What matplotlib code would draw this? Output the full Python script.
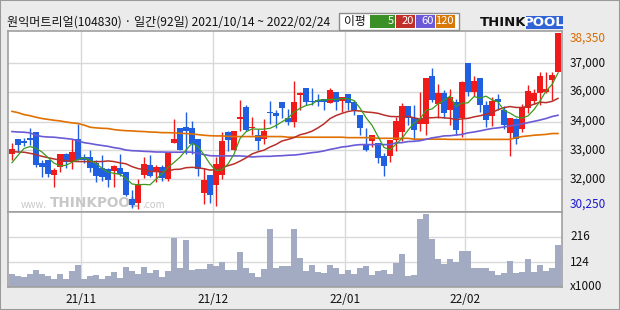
import matplotlib
matplotlib.use('Agg')
import matplotlib.pyplot as plt
from matplotlib.patches import Rectangle
import numpy as np
import pandas as pd

plt.rcParams['font.family'] = ['Noto Sans CJK KR', 'DejaVu Sans']

# --- data ---
title = '원익머트리얼(104830) · 일간(92일) 2021/10/14 ~ 2022/02/24'

opens = [32800, 33500, 33400, 33550, 33800, 32400, 32500, 31850, 32200, 32800,
         32450, 33500, 32650, 32650, 32400, 32150, 32100, 32000, 32150, 31950,
         30750, 30550, 31850, 32300, 31950, 32200, 31650, 33300, 34000, 34050,
         34000, 33500, 31000, 31850, 31350, 31850, 33800, 33000, 34400, 34950,
         34000, 33650, 33500, 34750, 34700, 35200, 34450, 34250, 35500, 35850,
         35250, 35300, 35350, 35150, 35650, 35250, 35550, 35200, 34600, 33250,
         33400, 33300, 32700, 32700, 33450, 33800, 35000, 34450, 34200, 34200,
         36400, 35100, 35600, 34800, 35200, 34450, 37000, 35650, 36300, 35050,
         34550, 35350, 34800, 33750, 34400, 33950, 34900, 35250, 35600, 35650,
         36200, 36550]
highs = [33300, 33500, 33550, 34000, 33800, 32500, 32500, 32150, 32800, 32850,
         33500, 34200, 32800, 33000, 32500, 32750, 32150, 32300, 32800, 31950,
         31150, 31650, 32650, 32750, 32300, 32300, 32900, 34400, 34000, 34750,
         34300, 33500, 32150, 31850, 32650, 33800, 33850, 33850, 35300, 35050,
         34500, 33950, 34400, 35250, 34800, 35200, 34850, 36150, 35650, 35850,
         35850, 35550, 35350, 35850, 35650, 35400, 35550, 35300, 34600, 34000,
         33650, 33300, 32850, 33450, 34500, 35150, 35000, 35050, 35650, 36300,
         36750, 36000, 35750, 35800, 35350, 36150, 37000, 36400, 36300, 35250,
         35400, 35550, 35000, 34450, 34450, 35100, 35950, 35800, 36550, 36550,
         36550, 38350]
lows = [32500, 32900, 33150, 33200, 32200, 31750, 31750, 31300, 31950, 32150,
        32100, 32500, 32400, 31950, 31500, 31550, 31300, 31300, 31800, 30850,
        30300, 30250, 31700, 31750, 31500, 31550, 31550, 33300, 33000, 32800,
        32800, 31800, 30500, 30550, 30400, 31650, 32950, 33000, 33850, 33850,
        33650, 33000, 33250, 34200, 34000, 34450, 34150, 34050, 34800, 35050,
        35050, 35000, 34800, 35150, 34800, 34750, 34800, 34600, 33650, 32950,
        33100, 32400, 31800, 32450, 32950, 33400, 34150, 33450, 33850, 33650,
        35200, 34450, 34450, 34150, 33650, 33600, 35450, 35450, 34750, 34050,
        34100, 34800, 33950, 32700, 33250, 33800, 34700, 35100, 35050, 35600,
        35300, 36550]
closes = [33050, 33200, 33300, 33450, 32300, 32200, 31900, 32050, 32800, 32450,
          32900, 32500, 32500, 32150, 31800, 31750, 31600, 32250, 31900, 30900,
          30450, 31400, 32350, 31800, 32200, 31700, 32850, 33500, 33000, 33850,
          33250, 32100, 31600, 30900, 32350, 33400, 33450, 33850, 34500, 33900,
          34050, 33400, 33850, 34700, 34550, 34900, 34250, 35200, 35600, 35200,
          35200, 35200, 35200, 35750, 35200, 35400, 35150, 34800, 34000, 33000,
          33650, 32600, 32250, 33450, 34300, 35000, 34450, 33900, 34400, 36300,
          35300, 35600, 34700, 35400, 33900, 36100, 35650, 36150, 35050, 34350,
          35250, 35200, 34150, 34450, 33500, 34950, 35700, 35600, 36400, 35800,
          36450, 38350]
# volume, x1000 shares
volumes = [80, 72, 69, 80, 95, 80, 72, 61, 80, 61,
           91, 113, 61, 72, 76, 61, 72, 87, 65, 106,
           91, 80, 106, 83, 95, 69, 91, 212, 102, 205,
           95, 98, 98, 117, 109, 124, 95, 95, 161, 102,
           83, 69, 98, 245, 102, 109, 109, 245, 139, 91,
           113, 87, 83, 113, 102, 80, 95, 80, 102, 109,
           76, 91, 95, 80, 120, 153, 72, 76, 282, 301,
           209, 135, 117, 135, 124, 165, 165, 102, 102, 102,
           91, 76, 83, 128, 83, 87, 135, 87, 113, 91,
           102, 187]

# moving averages: first points need history before the window
ma5_head = [32400, 32740, 33050, 33140]
ma20_head = [32910, 32890, 32880, 32830, 32770, 32690, 32630, 32570, 32520, 32490,
             32460, 32450, 32450, 32450, 32450, 32450, 32480, 32450, 32390]
ma60 = [33830, 33810, 33800, 33770, 33660, 33600, 33580, 33570, 33540, 33510,
        33480, 33400, 33320, 33280, 33230, 33190, 33150, 33090, 33050, 32980,
        32950, 32940, 32920, 32910, 32890, 32890, 32880, 32880, 32880, 32890,
        32880, 32830, 32770, 32720, 32710, 32710, 32710, 32710, 32710, 32690,
        32660, 32680, 32690, 32690, 32710, 32720, 32740, 32750, 32780, 32820,
        32860, 32890, 32940, 33010, 33060, 33120, 33150, 33200, 33230, 33230,
        33230, 33230, 33230, 33230, 33310, 33320, 33370, 33380, 33410, 33470,
        33540, 33580, 33630, 33640, 33670, 33700, 33770, 33810, 33860, 33920,
        33970, 34000, 34040, 34090, 34130, 34180, 34240, 34300, 34360, 34430,
        34520, 34580]
ma120 = [34760, 34700, 34610, 34560, 34490, 34430, 34390, 34350, 34320, 34270,
         34230, 34200, 34130, 34030, 34000, 33980, 33970, 33920, 33890, 33870,
         33860, 33840, 33830, 33810, 33800, 33780, 33780, 33770, 33750, 33740,
         33720, 33690, 33660, 33640, 33630, 33630, 33610, 33600, 33600, 33600,
         33600, 33600, 33600, 33600, 33600, 33600, 33570, 33570, 33570, 33570,
         33570, 33570, 33570, 33570, 33570, 33570, 33550, 33550, 33550, 33550,
         33550, 33520, 33520, 33520, 33520, 33520, 33520, 33480, 33480, 33480,
         33480, 33480, 33480, 33470, 33470, 33470, 33470, 33470, 33470, 33470,
         33470, 33470, 33470, 33470, 33550, 33600, 33630, 33660, 33680, 33700,
         33740, 33740]

month_labels = ['21/11', '21/12', '22/01', '22/02']
month_first_idx = [12, 34, 56, 76]

price_top_label, price_bottom_label = '38,350', '30,250'
price_grid = [37000, 35670, 34290, 32970, 31630]
price_grid_labels = ['37,000', '36,000', '34,000', '33,000', '32,000']
vol_grid = [216, 124]

RED = '#f01a1a'
BLUE = '#1f5fe0'
MA_COLORS = {'5': '#3c9a1e', '20': '#b8302a', '60': '#6a5ad6', '120': '#e07000'}
BOX_COLORS = {'5': '#3a8f26', '20': '#c0302a', '60': '#6a5ad8', '120': '#d9780a'}
GRID = '#d9d9d9'
FRAME = '#a0a0a0'
BG = '#ebebeb'

opens = np.array(opens)
closes_a = np.array(closes)
highs = np.array(highs)
lows = np.array(lows)
x = np.arange(len(closes))

s = pd.Series(closes, dtype=float)
ma5 = s.rolling(5).mean().to_numpy()
ma5[:4] = ma5_head
ma20 = s.rolling(20).mean().to_numpy()
ma20[:19] = ma20_head

W, H = 620, 310
fig = plt.figure(figsize=(W / 100, H / 100), dpi=100, facecolor=BG)


def fx(px):
    return px / W


def fy(py):
    return 1 - py / H


ax = fig.add_axes([fx(8), fy(212), fx(554), 181 / H])
axv = fig.add_axes([fx(8), fy(287), fx(554), 75 / H])

for a in (ax, axv):
    a.set_facecolor('white')
    a.set_xlim(-0.67, len(closes) - 0.33)
    for sp in a.spines.values():
        sp.set_color(FRAME)
        sp.set_linewidth(1.2)
    a.tick_params(left=False, right=False, labelleft=False, bottom=False, labelbottom=False)
    for m in month_first_idx:
        a.axvline(m - 0.5, color=GRID, lw=1, zorder=0)

# --- price panel ---
ax.set_ylim(30130, 38456)
for g in price_grid:
    ax.axhline(g, color=GRID, lw=1, zorder=0)

# watermark
wm = dict(transform=fig.transFigure, color='#c8c8c8', va='center', zorder=0.5)
ax.text(fx(21), fy(205), 'www.', fontsize=7, **wm)
ax.text(fx(50), fy(203), 'THINKPOOL', fontsize=9.8, fontweight='bold', family='DejaVu Sans', **wm)
ax.text(fx(142), fy(205), '.com', fontsize=7, **wm)

colors = np.where(closes_a >= opens, RED, BLUE)
ax.vlines(x, lows, highs, colors=colors, lw=1, zorder=2)
body_bottom = np.minimum(opens, closes_a)
body_h = np.maximum(np.abs(closes_a - opens), 45)
ax.bar(x, body_h, width=0.86, bottom=body_bottom, color=colors, lw=0, zorder=3)

ax.plot(x, ma120, color=MA_COLORS['120'], lw=1.2, zorder=4)
ax.plot(x, ma60, color=MA_COLORS['60'], lw=1.2, zorder=4)
ax.plot(x, ma20, color=MA_COLORS['20'], lw=1.1, zorder=4)
ax.plot(x, ma5, color=MA_COLORS['5'], lw=0.9, zorder=4)

ytr = ax.get_yaxis_transform()
lab_x = (570 - 8) / 554
for g, lab in zip(price_grid, price_grid_labels):
    ax.text(lab_x, g, lab, transform=ytr, ha='left', va='center', fontsize=8.5,
            color='#111111', clip_on=False)
ax.text(lab_x, 0.995, price_top_label, transform=ax.transAxes, ha='left', va='top',
        fontsize=8.5, color='#d96c00', clip_on=False)
ax.text(lab_x, 0.01, price_bottom_label, transform=ax.transAxes, ha='left', va='bottom',
        fontsize=8.5, color='#1a1ad0', clip_on=False)

# --- volume panel ---
axv.set_ylim(32, 308)
for g in vol_grid:
    axv.axhline(g, color=GRID, lw=1, zorder=0)
axv.bar(x, volumes, width=0.86, color='#a2abc2', lw=0, zorder=2)
vtr = axv.get_yaxis_transform()
for g in vol_grid:
    axv.text(lab_x, g, str(g), transform=vtr, ha='left', va='center', fontsize=8.5,
             color='#111111', clip_on=False)
axv.text(lab_x, 0.0, 'x1000', transform=axv.transAxes, ha='left', va='center',
         fontsize=8.5, color='#111111', clip_on=False)

axv.set_xticks([m - 0.5 for m in month_first_idx])
axv.set_xticklabels(month_labels)
axv.tick_params(bottom=False, labelbottom=True, length=0, pad=4, labelsize=8.5,
                labelcolor='#111111')

# --- header ---
fig.text(fx(7), fy(22), title, ha='left', va='center', fontsize=8.7, color='#111111')

fig.patches.append(Rectangle((fx(339), fy(30)), fx(120), 17 / H, transform=fig.transFigure,
                             facecolor='white', edgecolor='#8c8c8c', lw=1))
fig.text(fx(344), fy(22), '이평', ha='left', va='center', fontsize=8.5, color='#111111')
box_edges = [(370, 395), (396, 415), (416, 435), (436, 455)]
for (x0, x1), key in zip(box_edges, ['5', '20', '60', '120']):
    fig.patches.append(Rectangle((fx(x0), fy(28)), fx(x1 - x0), 13 / H,
                                 transform=fig.transFigure, facecolor=BOX_COLORS[key], lw=0))
    fig.text(fx(x1 - 1), fy(21.5), key, ha='right', va='center', fontsize=8, color='white')

# logo
fig.text(fx(480), fy(22), 'THINK', ha='left', va='center', fontsize=9.5, fontweight='bold',
         family='DejaVu Sans', color='#111111')
fig.patches.append(Rectangle((fx(526), fy(29)), fx(37), 13 / H, transform=fig.transFigure,
                             facecolor='#2f63d6', lw=0))
fig.text(fx(544.5), fy(22.5), 'POOL', ha='center', va='center', fontsize=9.5, fontweight='bold',
         family='DejaVu Sans', color='white')

fig.patches.append(Rectangle((0, 0), 1, 1, transform=fig.transFigure, fill=False,
                             edgecolor='#9a9a9a', lw=1.5))

fig.savefig('out.png', dpi=100, facecolor=BG)
